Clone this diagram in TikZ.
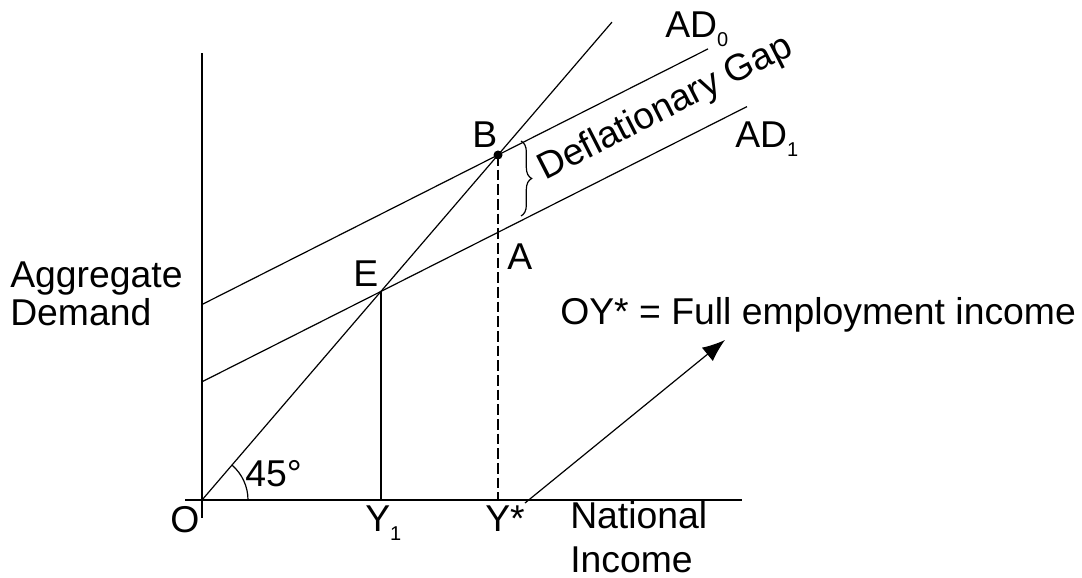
\documentclass[tikz,border=0pt]{standalone}
\usepackage{fontspec}
\setmainfont{Liberation Sans}
\usetikzlibrary{arrows.meta,decorations.pathreplacing}

% small lowered index, as in AD0 / AD1 / Y1
\newcommand{\lowidx}[1]{\raisebox{-0.22em}{\fontsize{15}{15}\selectfont #1}}

\begin{document}
\begin{tikzpicture}[
    x=0.75pt, y=0.75pt,
    font=\fontsize{28}{32}\selectfont,
    axis/.style={line width=1.1pt},
    curve/.style={line width=0.9pt},
    guide/.style={line width=0.9pt, dash pattern=on 8pt off 3pt},
    lbl/.style={inner sep=0pt, anchor=base west},
    twoline/.style={inner sep=0pt, anchor=west, align=left},
    conn/.style={-{Latex[length=17pt, width=13pt]}, line width=0.9pt},
]
    \useasboundingbox (0,0) rectangle (1082,578);

    % ---------- Axes ----------
    \coordinate (O) at (202,78);
    \coordinate (ytop) at (202,525);
    \coordinate (ybot) at (202,60);
    \coordinate (xleft) at (185,78);
    \coordinate (xright) at (742,78);

    \draw[axis] (ybot) -- (ytop);
    \draw[axis] (xleft) -- (xright);

    % ---------- 45 degree line and the two AD lines ----------
    \coordinate (E) at (381,286.6);
    \coordinate (B) at (498,423);
    \coordinate (A) at (498,345.7);
    \coordinate (degtop) at (612,555.9);
    \coordinate (ad0start) at (202,273.5);
    \coordinate (ad0end) at (708,529.1);
    \coordinate (ad1start) at (202,196.2);
    \coordinate (ad1end) at (747,471.4);

    \draw[curve] (O) -- (degtop);
    \draw[curve] (ad0start) -- (ad0end);
    \draw[curve] (ad1start) -- (ad1end);

    % drop lines to the income axis
    \coordinate (y1) at (381,78);
    \coordinate (ystar) at (498,78);
    \draw[curve] (E) -- (y1);
    \draw[guide] (B) -- (ystar);
    \fill (B) circle (4.5);

    % angle mark at the origin
    \draw[curve] (O) ++(46,0) arc[start angle=0, end angle=49.4, radius=46];

    % gap brace between AD0 and AD1
    \coordinate (gaptop) at (521,437);
    \coordinate (gapbot) at (521,362);
    \draw[curve, decorate, decoration={brace, amplitude=8pt}] (gaptop) -- (gapbot);

    % ---------- Labels ----------
    \node[lbl] (lblAD0) at (665,540) {AD\lowidx{0}};
    \node[lbl] (lblAD1) at (735,430) {AD\lowidx{1}};
    \node[lbl] (lblB) at (472,430) {B};
    \node[lbl] (lblE) at (353,291) {E};
    \node[lbl] (lblA) at (507,308) {A};
    \node[lbl] (lblO) at (170,45) {O};
    \node[lbl] (lblY1) at (365,46) {Y\lowidx{1}};
    \node[lbl] (lblYstar) at (485,46) {Y*};
    \node[lbl] (lbl45) at (245,91) {45°};
    \node[lbl, rotate=27] (gap) at (545,397) {Deflationary Gap};
    \node[lbl] (fullemp) at (560,253) {OY* = Full employment income};

    \node[twoline] (yname) at (10,284) {Aggregate\\[-4pt]Demand};
    \node[twoline] (xname) at (570,41) {National\\[1pt]Income};

    % pointer to the full employment note
    \coordinate (arrowfoot) at (525,75);
    \coordinate (arrowtip) at (725,238);
    \draw[conn] (arrowfoot) -- (arrowtip);

\end{tikzpicture}
\end{document}
